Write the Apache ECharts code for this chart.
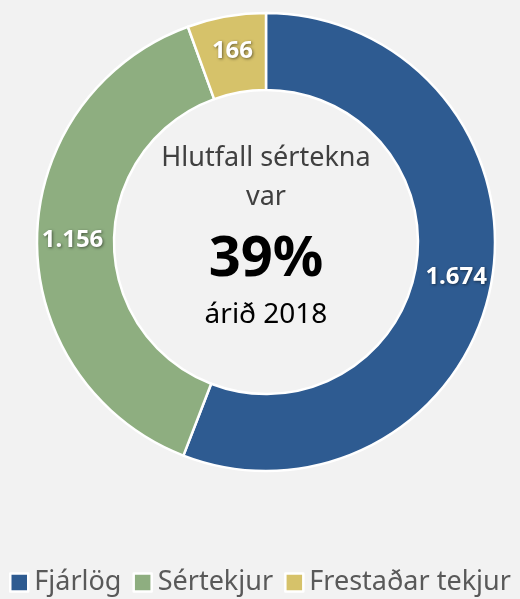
<!DOCTYPE html>
<html>
<head>
    <meta charset="utf-8">
    <title>Hlutfall sértekna</title>
    <script src="https://cdn.jsdelivr.net/npm/echarts@6/dist/echarts.min.js"></script>
    <style>
        html, body { margin: 0; padding: 0; background: #f2f2f2; }
        #chart { width: 520px; height: 599px; }
    </style>
</head>
<body>
<div id="chart"></div>
<script>
    var categories = ['Fjárlög', 'Sértekjur', 'Frestaðar tekjur'];
    var values = [1674, 1156, 166];
    var colors = ['#2e5b91', '#8eae80', '#d6c26a'];
    var centerLines = ['Hlutfall sértekna', 'var', '39%', 'árið 2018'];

    var font = '"Noto Sans", "Open Sans", sans-serif';

    // 1674 -> 1.674
    function fmt(v) {
        return String(v).replace(/\B(?=(\d{3})+(?!\d))/g, '.');
    }

    var data = categories.map(function (c, i) {
        return { name: c, value: values[i], itemStyle: { color: colors[i] } };
    });

    function centerText(txt, y, size, weight, color) {
        return {
            type: 'text', x: 266, y: y,
            style: {
                text: txt, fontFamily: font, fontSize: size, fontWeight: weight,
                fill: color, align: 'center', verticalAlign: 'middle'
            }
        };
    }

    var option = {
        backgroundColor: '#f2f2f2',
        animation: false,
        legend: {
            top: 569,
            left: 9,
            width: 516,
            padding: 0,
            icon: 'rect',
            itemWidth: 18,
            itemHeight: 18,
            itemGap: 11,
            itemStyle: { borderColor: '#fff', borderWidth: 2.5 },
            textStyle: { fontFamily: font, fontSize: 27, color: '#595959', padding: [0, 0, 0, 1] },
            data: categories
        },
        graphic: [
            centerText(centerLines[0], 158, 27, 'normal', '#404040'),
            centerText(centerLines[1], 197, 27, 'normal', '#404040'),
            centerText(centerLines[2], 260, 56, 'bold', '#000'),
            centerText(centerLines[3], 315, 28, 'normal', '#000')
        ],
        series: [{
            type: 'pie',
            center: [266, 242],
            radius: [152, 229],
            startAngle: 90,
            clockwise: true,
            itemStyle: { borderColor: '#fff', borderWidth: 2.5 },
            label: {
                show: true,
                position: 'inside',
                formatter: function (p) { return fmt(p.value); },
                fontFamily: font,
                fontSize: 24,
                fontWeight: 'bold',
                color: '#fff',
                textBorderWidth: 0,
                textShadowColor: 'rgba(0,0,0,0.5)',
                textShadowBlur: 3,
                textShadowOffsetX: 1,
                textShadowOffsetY: 1
            },
            labelLine: { show: false },
            emphasis: { disabled: true },
            data: data
        }]
    };

    var myChart = echarts.init(document.getElementById('chart'));
    myChart.setOption(option);
</script>
</body>
</html>
